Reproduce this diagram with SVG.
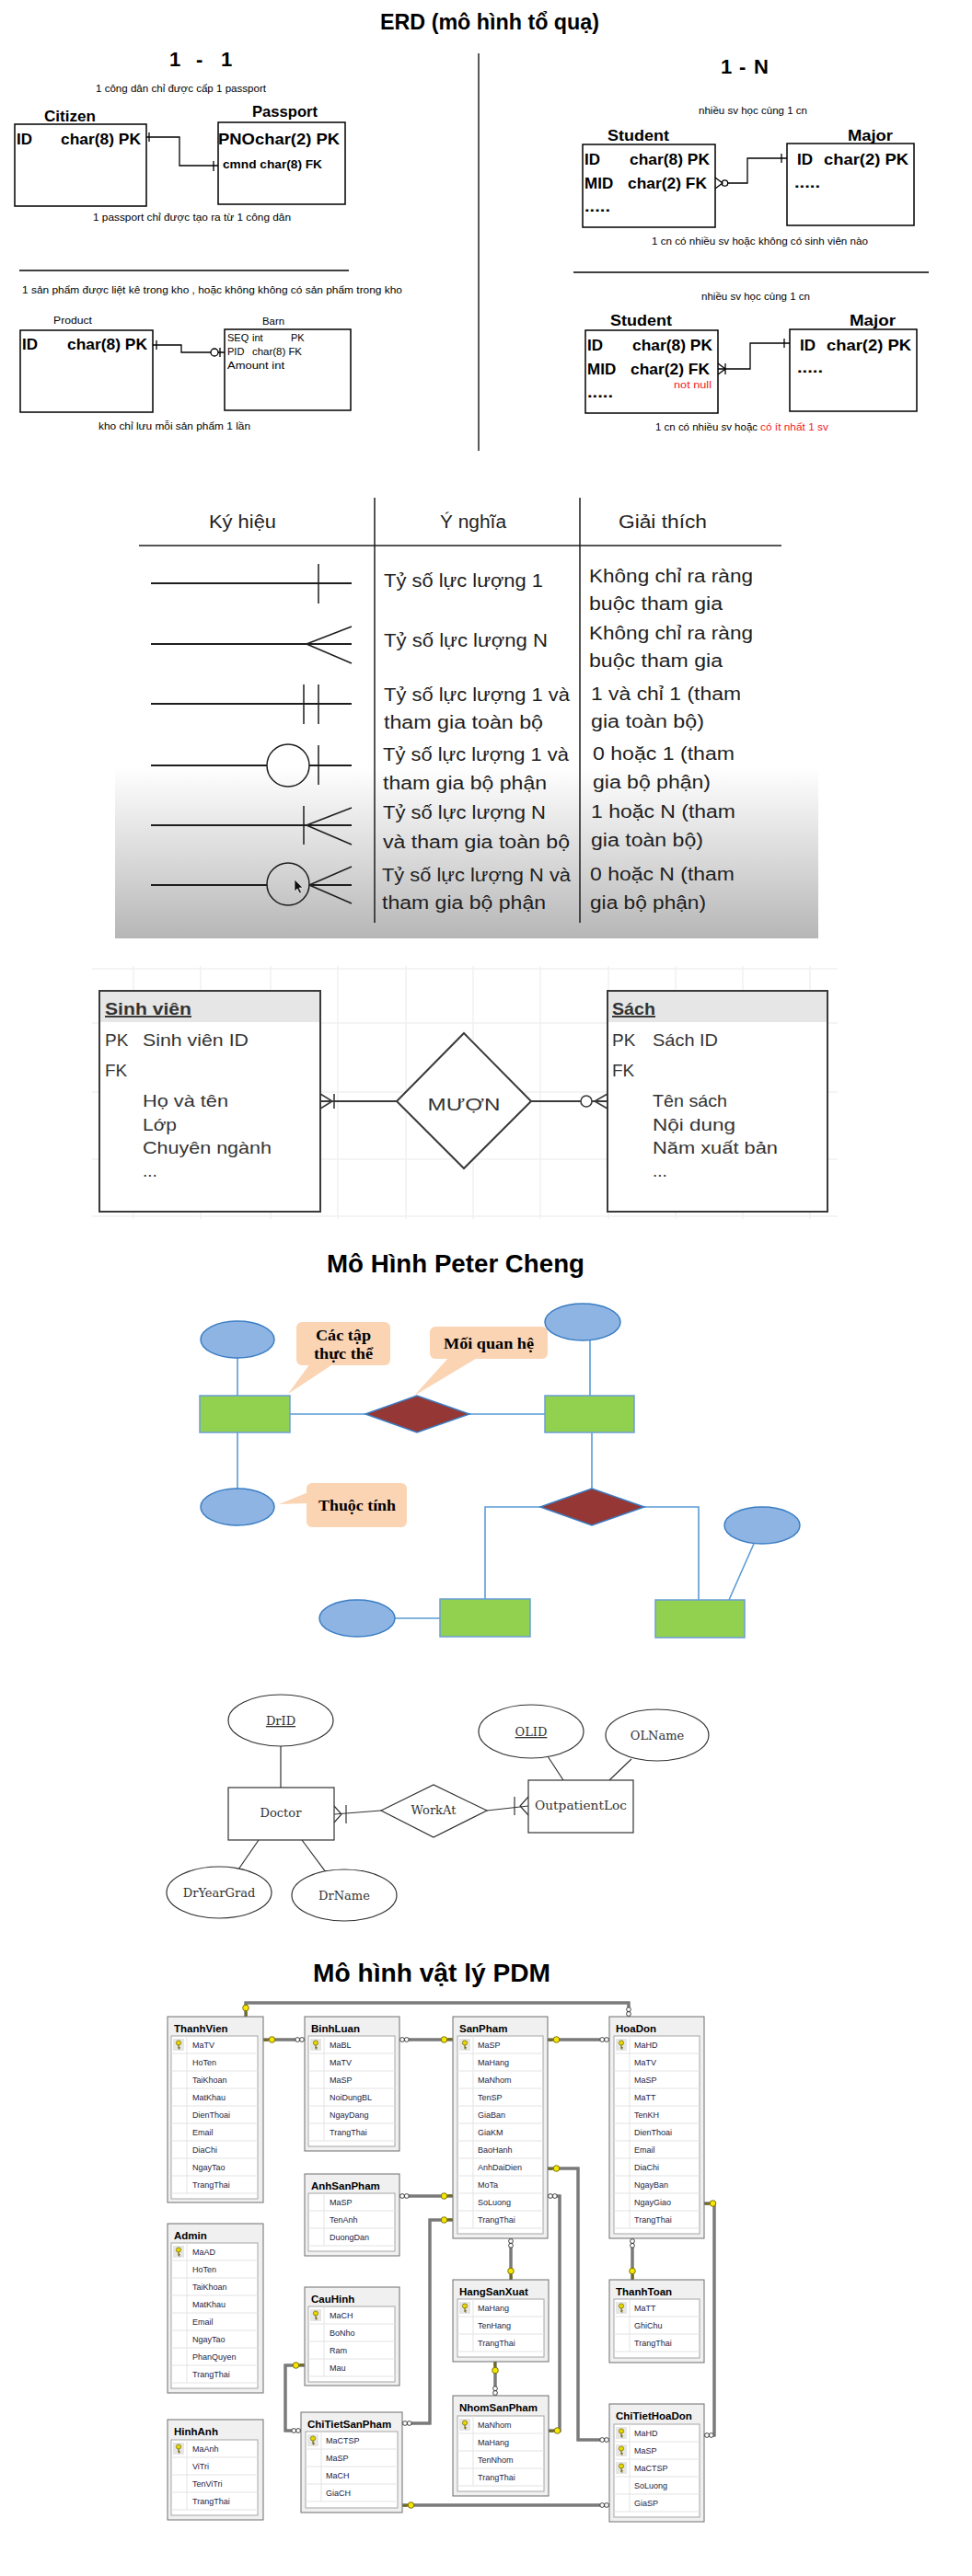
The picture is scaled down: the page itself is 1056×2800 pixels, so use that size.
<svg xmlns="http://www.w3.org/2000/svg" xmlns:xlink="http://www.w3.org/1999/xlink" width="1056" height="2800" viewBox="0 0 1056 2800">
<style>
text{font-family:"Liberation Sans",Arial,sans-serif;fill:#000}
.b24{font-weight:bold;font-size:24px}
.b20{font-weight:bold;font-size:22px}
.b17{font-weight:bold;font-size:17px}
.b13{font-weight:bold;font-size:13px}
.s11{font-size:11px}
.red{fill:#f01c24}
.ln{fill:none;stroke:#000;stroke-width:1.3}
.box{fill:#fff;stroke:#000;stroke-width:1.5}
.tb{font-size:20px;fill:#1e1e1e}
.sym{stroke:#1e1e1e;stroke-width:2;fill:none}
.symt{stroke:#1e1e1e;stroke-width:1.5;fill:none}
.sv{font-size:19px;fill:#333}
.svb{font-size:19px;font-weight:bold;fill:#333;text-decoration:underline}
.svbox{fill:#fff;stroke:#3a3a3a;stroke-width:2}
.grid{stroke:#f1f1f1;stroke-width:1.5}
.pc-e{fill:#8db4e2;stroke:#3b7dc4;stroke-width:1.5}
.pc-r{fill:#92d050;stroke:#6a9fd6;stroke-width:1.5}
.pc-d{fill:#953734;stroke:#3b7dc4;stroke-width:1.5}
.pc-l{fill:none;stroke:#5b9bd5;stroke-width:1.6}
.pc-c{fill:#fbd4b4}
.pc-t{font-family:"Liberation Serif","Times New Roman",serif;font-weight:bold;font-size:16px}
.dr{fill:#fff;stroke:#333;stroke-width:1.2}
.drl{fill:none;stroke:#333;stroke-width:1.2}
.drt{font-family:"DejaVu Serif",serif;font-size:13px;fill:#333}
.to{fill:#f0f0f0;stroke:#6e6e6e;stroke-width:1}
.ti{fill:#fff;stroke:#a6a6a6;stroke-width:1}
.rs{fill:none;stroke:#e3e3e3;stroke-width:1}
.tt{font-weight:bold;font-size:11.5px}
.tf{font-size:9px;fill:#1c1c44}
.cx{fill:none;stroke:#7a7a7a;stroke-width:3}
.ci{fill:none;stroke:#f2f2f2;stroke-width:1}
</style>
<defs>
<linearGradient id="gbg" x1="0" y1="0" x2="0" y2="1">
<stop offset="0" stop-color="#ffffff"/>
<stop offset="0.62" stop-color="#ffffff"/>
<stop offset="0.85" stop-color="#d4d4d4"/>
<stop offset="1" stop-color="#b6b6b6"/>
</linearGradient>
<g id="pk"><rect x="0" y="0" width="12" height="13" fill="#e6e6e6"/><circle cx="6" cy="4.5" r="2.6" fill="#e8d800" stroke="#6e6400" stroke-width="0.7"/><path d="M6 7V11M6 9.5H7.6M6 11H7.6" stroke="#6e6400" stroke-width="1.1" fill="none"/></g>
<g id="key"><path d="M0 0H6M2 0V2M4 0V2" stroke="#6e6400" stroke-width="1.2" fill="none"/><circle cx="9.5" cy="0" r="3.3" fill="#f5e600" stroke="#6e6400" stroke-width="0.9"/></g>
<g id="many"><circle cx="3" cy="0" r="2.4" fill="#fff" stroke="#333" stroke-width="0.9"/><circle cx="7.8" cy="0" r="2.4" fill="#fff" stroke="#333" stroke-width="0.9"/></g>
</defs>
<rect width="1056" height="2800" fill="#fff"/>

<!-- ===== ERD section ===== -->
<g id="erd-title">
<text class="b24" x="413" y="32" textLength="238" lengthAdjust="spacingAndGlyphs">ERD (mô hình tổ quạ)</text>
<text class="b20" x="184" y="72">1</text><text class="b20" x="213" y="72">-</text><text class="b20" x="240" y="72">1</text>
<text class="b20" x="783" y="80">1</text><text class="b20" x="803" y="80">-</text><text class="b20" x="819" y="80">N</text>
</g>
<g id="erd-dividers">
<line class="ln" x1="520" y1="58" x2="520" y2="490"/>
<line class="ln" x1="21" y1="294" x2="379" y2="294"/>
<line class="ln" x1="623" y1="296" x2="1009" y2="296"/>
</g>
<g id="erd-notes">
<text class="s11" x="104" y="100" textLength="185" lengthAdjust="spacingAndGlyphs">1 công dân chỉ được cấp 1 passport</text>
<text class="s11" x="101" y="240" textLength="215" lengthAdjust="spacingAndGlyphs">1 passport chỉ được tạo ra từ 1 công dân</text>
<text class="s11" x="24" y="319" textLength="413" lengthAdjust="spacingAndGlyphs">1 sản phẩm được liệt kê trong kho , hoặc không không có sản phẩm trong kho</text>
<text class="s11" x="107" y="467" textLength="165" lengthAdjust="spacingAndGlyphs">kho chỉ lưu mỗi sản phẩm 1 lần</text>
<text class="s11" x="759" y="124" textLength="118" lengthAdjust="spacingAndGlyphs">nhiều sv học cùng 1 cn</text>
<text class="s11" x="708" y="266" textLength="235" lengthAdjust="spacingAndGlyphs">1 cn có nhiều sv hoặc không có sinh viên nào</text>
<text class="s11" x="762" y="326" textLength="118" lengthAdjust="spacingAndGlyphs">nhiều sv học cùng 1 cn</text>
<text class="s11" x="712" y="468" textLength="111" lengthAdjust="spacingAndGlyphs">1 cn có nhiều sv hoặc</text>
<text class="s11 red" x="826" y="468" textLength="74" lengthAdjust="spacingAndGlyphs">có ít nhất 1 sv</text>
</g>
<g id="citizen">
<text class="b17" x="48" y="132" textLength="56" lengthAdjust="spacingAndGlyphs">Citizen</text>
<rect class="box" x="16" y="135" width="143" height="89"/>
<text class="b17" x="18" y="157">ID</text>
<text class="b17" x="66" y="157" textLength="87" lengthAdjust="spacingAndGlyphs">char(8) PK</text>
</g>
<g id="passport">
<text class="b17" x="274" y="127" textLength="71" lengthAdjust="spacingAndGlyphs">Passport</text>
<rect class="box" x="237" y="133" width="138" height="89"/>
<text class="b17" x="237" y="157" textLength="132" lengthAdjust="spacingAndGlyphs">PNOchar(2)  PK</text>
<text class="b13" x="242" y="183" textLength="108" lengthAdjust="spacingAndGlyphs">cmnd char(8) FK</text>
</g>
<g id="product">
<text class="s11" x="58" y="352" textLength="42" lengthAdjust="spacingAndGlyphs">Product</text>
<rect class="box" x="22" y="359" width="144" height="89"/>
<text class="b17" x="24" y="380">ID</text>
<text class="b17" x="73" y="380" textLength="87" lengthAdjust="spacingAndGlyphs">char(8) PK</text>
</g>
<g id="barn">
<text class="s11" x="285" y="353" textLength="24" lengthAdjust="spacingAndGlyphs">Barn</text>
<rect class="box" x="244" y="358" width="137" height="88"/>
<text class="s11" x="247" y="371">SEQ</text><text class="s11" x="274" y="371">int</text><text class="s11" x="316" y="371">PK</text>
<text class="s11" x="247" y="386">PID</text><text class="s11" x="274" y="386" textLength="54" lengthAdjust="spacingAndGlyphs">char(8) FK</text>
<text class="s11" x="247" y="401" textLength="62" lengthAdjust="spacingAndGlyphs">Amount int</text>
</g>
<g id="student1">
<text class="b17" x="660" y="153" textLength="67" lengthAdjust="spacingAndGlyphs">Student</text>
<rect class="box" x="633" y="157" width="144" height="90"/>
<text class="b17" x="635" y="179">ID</text>
<text class="b17" x="684" y="179" textLength="87" lengthAdjust="spacingAndGlyphs">char(8) PK</text>
<text class="b17" x="635" y="205">MID</text>
<text class="b17" x="682" y="205" textLength="86" lengthAdjust="spacingAndGlyphs">char(2) FK</text>
<text class="b17" x="635" y="230" textLength="28" lengthAdjust="spacingAndGlyphs">.....</text>
</g>
<g id="major1">
<text class="b17" x="921" y="153" textLength="49" lengthAdjust="spacingAndGlyphs">Major</text>
<rect class="box" x="855" y="156" width="138" height="89"/>
<text class="b17" x="866" y="179">ID</text>
<text class="b17" x="895" y="179" textLength="92" lengthAdjust="spacingAndGlyphs">char(2)  PK</text>
<text class="b17" x="863" y="204" textLength="28" lengthAdjust="spacingAndGlyphs">.....</text>
</g>
<g id="student2">
<text class="b17" x="663" y="354" textLength="67" lengthAdjust="spacingAndGlyphs">Student</text>
<rect class="box" x="636" y="359" width="144" height="90"/>
<text class="b17" x="638" y="381">ID</text>
<text class="b17" x="687" y="381" textLength="87" lengthAdjust="spacingAndGlyphs">char(8) PK</text>
<text class="b17" x="638" y="407">MID</text>
<text class="b17" x="685" y="407" textLength="86" lengthAdjust="spacingAndGlyphs">char(2) FK</text>
<text class="s11 red" x="732" y="422" textLength="41" lengthAdjust="spacingAndGlyphs">not null</text>
<text class="b17" x="638" y="432" textLength="28" lengthAdjust="spacingAndGlyphs">.....</text>
</g>
<g id="major2">
<text class="b17" x="923" y="354" textLength="50" lengthAdjust="spacingAndGlyphs">Major</text>
<rect class="box" x="858" y="358" width="138" height="89"/>
<text class="b17" x="869" y="381">ID</text>
<text class="b17" x="898" y="381" textLength="92" lengthAdjust="spacingAndGlyphs">char(2)  PK</text>
<text class="b17" x="866" y="405" textLength="28" lengthAdjust="spacingAndGlyphs">.....</text>
</g>
<g id="erd-connectors">
<polyline class="ln" points="159,149 195,149 195,180 237,180"/>
<path class="ln" d="M162 144V154M232 175V186"/>
<polyline class="ln" points="166,375 197,375 197,383 229,383"/>
<circle class="ln" cx="233" cy="383" r="4" fill="#fff"/>
<path class="ln" d="M237 383H244M170 370V380M239 378V388"/>
<path class="ln" d="M777 193L785 199L777 205"/>
<circle class="ln" cx="787.5" cy="199" r="3.2"/>
<polyline class="ln" points="791,199 812,199 812,172 855,172"/>
<path class="ln" d="M849 167V177"/>
<path class="ln" d="M780 395L788 401L780 407M788 395V407"/>
<polyline class="ln" points="780,401 815,401 815,373 858,373"/>
<path class="ln" d="M852 368V378"/>
</g>

<!-- ===== Notation table ===== -->
<g id="notation-table">
<rect x="125" y="530" width="764" height="490" fill="url(#gbg)"/>
<path class="symt" d="M151 593H849M407 541V1003M630 541V1003"/>
<text class="tb" x="227" y="574" textLength="73" lengthAdjust="spacingAndGlyphs">Ký hiệu</text>
<text class="tb" x="478" y="574" textLength="72" lengthAdjust="spacingAndGlyphs">Ý nghĩa</text>
<text class="tb" x="672" y="574" textLength="96" lengthAdjust="spacingAndGlyphs">Giải thích</text>
<g id="sym-rows">
<path class="sym" d="M164 634H382M164 700H382M164 765H382M164 832H290M336 832H382M164 897H382M164 962H290M336 962H382"/>
<path class="symt" d="M346 613V656M333 700L382 681M333 700L382 721M330 744V787M346 744V787M346 810V853M330 876V918M333 897L382 878M333 897L382 918M336 962L382 942M336 962L382 982"/>
<circle class="symt" cx="313" cy="832" r="23"/>
<circle class="symt" cx="313" cy="961" r="23"/>
<polygon points="320,956 320,969 323,966 325.5,971 327.5,970 325,965 329,965" fill="#111" stroke="#fff" stroke-width="0.6"/>
</g>
<text class="tb" x="417" y="638" textLength="173" lengthAdjust="spacingAndGlyphs">Tỷ số lực lượng 1</text>
<text class="tb" x="417" y="703" textLength="178" lengthAdjust="spacingAndGlyphs">Tỷ số lực lượng N</text>
<text class="tb" x="417" y="762" textLength="202" lengthAdjust="spacingAndGlyphs">Tỷ số lực lượng 1 và</text>
<text class="tb" x="417" y="792" textLength="173" lengthAdjust="spacingAndGlyphs">tham gia toàn bộ</text>
<text class="tb" x="416" y="827" textLength="202" lengthAdjust="spacingAndGlyphs">Tỷ số lực lượng 1 và</text>
<text class="tb" x="416" y="858" textLength="178" lengthAdjust="spacingAndGlyphs">tham gia bộ phận</text>
<text class="tb" x="416" y="890" textLength="177" lengthAdjust="spacingAndGlyphs">Tỷ số lực lượng N</text>
<text class="tb" x="416" y="922" textLength="203" lengthAdjust="spacingAndGlyphs">và tham gia toàn bộ</text>
<text class="tb" x="415" y="958" textLength="205" lengthAdjust="spacingAndGlyphs">Tỷ số lực lượng N và</text>
<text class="tb" x="415" y="988" textLength="178" lengthAdjust="spacingAndGlyphs">tham gia bộ phận</text>
<text class="tb" x="640" y="633" textLength="178" lengthAdjust="spacingAndGlyphs">Không chỉ ra ràng</text>
<text class="tb" x="640" y="663" textLength="145" lengthAdjust="spacingAndGlyphs">buộc tham gia</text>
<text class="tb" x="640" y="695" textLength="178" lengthAdjust="spacingAndGlyphs">Không chỉ ra ràng</text>
<text class="tb" x="640" y="725" textLength="145" lengthAdjust="spacingAndGlyphs">buộc tham gia</text>
<text class="tb" x="642" y="761" textLength="163" lengthAdjust="spacingAndGlyphs">1 và chỉ 1 (tham</text>
<text class="tb" x="642" y="791" textLength="123" lengthAdjust="spacingAndGlyphs">gia toàn bộ)</text>
<text class="tb" x="644" y="826" textLength="154" lengthAdjust="spacingAndGlyphs">0 hoặc 1 (tham</text>
<text class="tb" x="644" y="857" textLength="128" lengthAdjust="spacingAndGlyphs">gia bộ phận)</text>
<text class="tb" x="642" y="889" textLength="157" lengthAdjust="spacingAndGlyphs">1 hoặc N (tham</text>
<text class="tb" x="642" y="920" textLength="122" lengthAdjust="spacingAndGlyphs">gia toàn bộ)</text>
<text class="tb" x="641" y="957" textLength="157" lengthAdjust="spacingAndGlyphs">0 hoặc N (tham</text>
<text class="tb" x="641" y="988" textLength="126" lengthAdjust="spacingAndGlyphs">gia bộ phận)</text>
</g>

<!-- ===== Sinh vien / Sach ===== -->
<g id="grid-bg">
<path class="grid" d="M145 1050V1325M218 1050V1325M294 1050V1325M367 1050V1325M441 1050V1325M514 1050V1325M587 1050V1325M661 1050V1325M734 1050V1325M807 1050V1325M880 1050V1325M100 1053H910M100 1112H910M100 1187H910M100 1260H910M100 1322H910"/>
</g>
<g id="sinhvien">
<rect class="svbox" x="108" y="1077" width="240" height="240"/>
<rect x="109" y="1078" width="238" height="33" fill="#e6e6e6"/>
<text class="svb" x="114" y="1103" textLength="94" lengthAdjust="spacingAndGlyphs">Sinh viên</text>
<text class="sv" x="114" y="1137">PK</text>
<text class="sv" x="155" y="1137" textLength="115" lengthAdjust="spacingAndGlyphs">Sinh viên ID</text>
<text class="sv" x="114" y="1170">FK</text>
<text class="sv" x="155" y="1203" textLength="93" lengthAdjust="spacingAndGlyphs">Họ và tên</text>
<text class="sv" x="155" y="1229" textLength="37" lengthAdjust="spacingAndGlyphs">Lớp</text>
<text class="sv" x="155" y="1254" textLength="140" lengthAdjust="spacingAndGlyphs">Chuyên ngành</text>
<text class="sv" x="155" y="1279" font-size="12">...</text>
</g>
<g id="sach">
<rect class="svbox" x="660" y="1077" width="239" height="240"/>
<rect x="661" y="1078" width="237" height="33" fill="#e6e6e6"/>
<text class="svb" x="665" y="1103" textLength="47" lengthAdjust="spacingAndGlyphs">Sách</text>
<text class="sv" x="665" y="1137">PK</text>
<text class="sv" x="709" y="1137" textLength="71" lengthAdjust="spacingAndGlyphs">Sách ID</text>
<text class="sv" x="665" y="1170">FK</text>
<text class="sv" x="709" y="1203" textLength="81" lengthAdjust="spacingAndGlyphs">Tên sách</text>
<text class="sv" x="709" y="1229" textLength="90" lengthAdjust="spacingAndGlyphs">Nội dung</text>
<text class="sv" x="709" y="1254" textLength="136" lengthAdjust="spacingAndGlyphs">Năm xuất bản</text>
<text class="sv" x="709" y="1279" font-size="12">...</text>
</g>
<g id="muon">
<polygon points="504,1123 577,1197 504,1270 431,1197" fill="#fff" stroke="#3a3a3a" stroke-width="2"/>
<text class="sv" x="504" y="1207" font-size="24" text-anchor="middle" textLength="79" lengthAdjust="spacingAndGlyphs">MƯỢN</text>
</g>
<g id="sv-connectors">
<path d="M348 1197H431M577 1197H631M643 1197H660" fill="none" stroke="#3a3a3a" stroke-width="2"/>
<path d="M348 1189L361 1197L348 1205M363 1189V1205M660 1189L646 1197L660 1205" fill="none" stroke="#3a3a3a" stroke-width="1.6"/>
<circle cx="637" cy="1197" r="6" fill="#fff" stroke="#3a3a3a" stroke-width="1.6"/>
</g>

<!-- ===== Peter Cheng ===== -->
<g id="pc-title">
<text x="355" y="1383" font-size="27" font-weight="bold" textLength="280" lengthAdjust="spacingAndGlyphs">Mô Hình Peter Cheng</text>
</g>
<g id="pc-connectors">
<path class="pc-l" d="M258 1476V1517M258 1557V1618M315 1537H397M510 1537H592M641 1457V1517M643 1557V1618M587 1638H527V1738M429 1759H478M700 1638H759V1739M819 1678L792 1739"/>
</g>
<g id="pc-callout-entity">
<polygon class="pc-c" points="337,1482 313,1515 363,1482"/>
<rect class="pc-c" x="322" y="1437" width="102" height="47" rx="6"/>
<text class="pc-t" x="373" y="1457" text-anchor="middle" textLength="60" lengthAdjust="spacingAndGlyphs">Các tập</text>
<text class="pc-t" x="373" y="1477" text-anchor="middle" textLength="64" lengthAdjust="spacingAndGlyphs">thực thể</text>
</g>
<g id="pc-callout-rel">
<polygon class="pc-c" points="488,1475 450,1517 520,1475"/>
<rect class="pc-c" x="467" y="1442" width="128" height="35" rx="6"/>
<text class="pc-t" x="531" y="1466" text-anchor="middle" textLength="98" lengthAdjust="spacingAndGlyphs">Mối quan hệ</text>
</g>
<g id="pc-callout-attr">
<polygon class="pc-c" points="335,1622 303,1635 335,1634"/>
<rect class="pc-c" x="333" y="1612" width="109" height="48" rx="6"/>
<text class="pc-t" x="388" y="1642" text-anchor="middle" textLength="84" lengthAdjust="spacingAndGlyphs">Thuộc tính</text>
</g>
<g id="pc-e1"><ellipse class="pc-e" cx="258" cy="1456" rx="40" ry="20"/></g>
<g id="pc-e5"><ellipse class="pc-e" cx="258" cy="1638" rx="40" ry="20"/></g>
<g id="pc-e2"><ellipse class="pc-e" cx="633" cy="1437" rx="41" ry="20"/></g>
<g id="pc-e3"><ellipse class="pc-e" cx="388" cy="1759" rx="41" ry="20"/></g>
<g id="pc-e4"><ellipse class="pc-e" cx="828" cy="1658" rx="41" ry="20"/></g>
<g id="pc-r1"><rect class="pc-r" x="217" y="1517" width="98" height="40"/></g>
<g id="pc-r2"><rect class="pc-r" x="592" y="1517" width="97" height="40"/></g>
<g id="pc-r3"><rect class="pc-r" x="478" y="1738" width="98" height="41"/></g>
<g id="pc-r4"><rect class="pc-r" x="712" y="1739" width="97" height="41"/></g>
<g id="pc-d1"><polygon class="pc-d" points="397,1537 453,1517 510,1537 453,1557"/></g>
<g id="pc-d2"><polygon class="pc-d" points="587,1638 643,1618 700,1638 643,1658"/></g>

<!-- ===== Doctor ER ===== -->
<g id="dr-connectors">
<path class="drl" d="M305 1898V1943M281 2000L259 2032M328 2000L354 2035M363 1972L414 1968M529 1968L574 1963M595 1909L612 1935M686 1912L662 1935"/>
<path class="drl" d="M363 1963L371 1972L363 1981M376 1962V1982M559 1953V1973M574 1953L565 1963L574 1973"/>
</g>
<g id="dr-drid"><ellipse class="dr" cx="305" cy="1870" rx="57" ry="28"/><text class="drt" x="305" y="1875" text-anchor="middle" text-decoration="underline">DrID</text></g>
<g id="dr-doctor"><rect class="dr" x="248" y="1943" width="115" height="57"/><text class="drt" x="305" y="1975" text-anchor="middle">Doctor</text></g>
<g id="dr-year"><ellipse class="dr" cx="238" cy="2057" rx="57" ry="28"/><text class="drt" x="238" y="2062" text-anchor="middle">DrYearGrad</text></g>
<g id="dr-name"><ellipse class="dr" cx="374" cy="2060" rx="57" ry="28"/><text class="drt" x="374" y="2065" text-anchor="middle">DrName</text></g>
<g id="dr-workat"><polygon class="dr" points="414,1968 471,1940 529,1968 471,1997"/><text class="drt" x="471" y="1972" text-anchor="middle">WorkAt</text></g>
<g id="dr-outpatient"><rect class="dr" x="574" y="1935" width="114" height="57"/><text class="drt" x="631" y="1967" text-anchor="middle" textLength="100" lengthAdjust="spacingAndGlyphs">OutpatientLoc</text></g>
<g id="dr-olid"><ellipse class="dr" cx="577" cy="1882" rx="57" ry="29"/><text class="drt" x="577" y="1887" text-anchor="middle" text-decoration="underline">OLID</text></g>
<g id="dr-olname"><ellipse class="dr" cx="714" cy="1886" rx="56" ry="28"/><text class="drt" x="714" y="1891" text-anchor="middle">OLName</text></g>

<!-- ===== PDM ===== -->
<g id="pdm-title">
<text x="340" y="2154" font-size="28" font-weight="bold" textLength="258" lengthAdjust="spacingAndGlyphs">Mô hình vật lý PDM</text>
</g>
<g id="pdm-connectors">
<path id="c1" class="cx" d="M267 2192V2177H683V2192"/>
<path id="c2" class="cx" d="M286 2217H331"/>
<path id="c3" class="cx" d="M434 2217H492"/>
<path id="c4" class="cx" d="M595 2217H662"/>
<path id="c5" class="cx" d="M434 2387H492"/>
<path id="c6" class="cx" d="M437 2634H467V2413H492"/>
<path id="c7" class="cx" d="M595 2357H628V2652H662"/>
<path id="c8" class="cx" d="M595 2387H608V2642H596"/>
<path id="c9" class="cx" d="M555 2433V2478"/>
<path id="c10" class="cx" d="M538 2567V2604"/>
<path id="c11" class="cx" d="M687 2433V2478"/>
<path id="c12" class="cx" d="M765 2395H776V2647H765"/>
<path id="c13" class="cx" d="M331 2571H310V2642H327"/>
<path id="c14" class="cx" d="M437 2723H662"/>
<g class="ci">
<use xlink:href="#c1" class="ci"/><use xlink:href="#c2" class="ci"/><use xlink:href="#c3" class="ci"/><use xlink:href="#c4" class="ci"/><use xlink:href="#c5" class="ci"/><use xlink:href="#c6" class="ci"/><use xlink:href="#c7" class="ci"/><use xlink:href="#c8" class="ci"/><use xlink:href="#c9" class="ci"/><use xlink:href="#c10" class="ci"/><use xlink:href="#c11" class="ci"/><use xlink:href="#c12" class="ci"/><use xlink:href="#c13" class="ci"/><use xlink:href="#c14" class="ci"/>
</g>
<use xlink:href="#key" transform="translate(267,2192) rotate(-90)"/>
<use xlink:href="#many" transform="translate(683,2192) rotate(-90)"/>
<use xlink:href="#key" transform="translate(286,2217)"/>
<use xlink:href="#many" transform="translate(331,2217) rotate(180)"/>
<use xlink:href="#many" transform="translate(434,2217)"/>
<use xlink:href="#key" transform="translate(492,2217) rotate(180)"/>
<use xlink:href="#key" transform="translate(595,2217)"/>
<use xlink:href="#many" transform="translate(662,2217) rotate(180)"/>
<use xlink:href="#many" transform="translate(434,2387)"/>
<use xlink:href="#key" transform="translate(492,2387) rotate(180)"/>
<use xlink:href="#many" transform="translate(437,2634)"/>
<use xlink:href="#key" transform="translate(492,2413) rotate(180)"/>
<use xlink:href="#key" transform="translate(595,2357)"/>
<use xlink:href="#many" transform="translate(662,2652) rotate(180)"/>
<use xlink:href="#many" transform="translate(595,2387)"/>
<use xlink:href="#key" transform="translate(596,2642)"/>
<use xlink:href="#many" transform="translate(555,2433) rotate(90)"/>
<use xlink:href="#key" transform="translate(555,2478) rotate(-90)"/>
<use xlink:href="#key" transform="translate(538,2567) rotate(90)"/>
<use xlink:href="#many" transform="translate(538,2604) rotate(-90)"/>
<use xlink:href="#many" transform="translate(687,2433) rotate(90)"/>
<use xlink:href="#key" transform="translate(687,2478) rotate(-90)"/>
<use xlink:href="#key" transform="translate(765,2395)"/>
<use xlink:href="#many" transform="translate(765,2647)"/>
<use xlink:href="#key" transform="translate(331,2571) rotate(180)"/>
<use xlink:href="#many" transform="translate(327,2642) rotate(180)"/>
<use xlink:href="#key" transform="translate(437,2723)"/>
<use xlink:href="#many" transform="translate(662,2723) rotate(180)"/>
</g>

<g id="tbl-ThanhVien">
<rect class="to" x="182" y="2192" width="104" height="202"/>
<text class="tt" x="189" y="2209">ThanhVien</text>
<rect class="ti" x="186" y="2213" width="94" height="177"/>
<path class="rs" d="M186 2232H280M186 2251H280M186 2270H280M186 2289H280M186 2308H280M186 2327H280M186 2346H280M186 2365H280M186 2384H280M203 2213V2384"/>
<use xlink:href="#pk" x="188" y="2216"/>
<text class="tf" x="209" y="2226">MaTV</text><text class="tf" x="209" y="2245">HoTen</text><text class="tf" x="209" y="2264">TaiKhoan</text><text class="tf" x="209" y="2283">MatKhau</text><text class="tf" x="209" y="2302">DienThoai</text><text class="tf" x="209" y="2321">Email</text><text class="tf" x="209" y="2340">DiaChi</text><text class="tf" x="209" y="2359">NgayTao</text><text class="tf" x="209" y="2378">TrangThai</text>
</g>
<g id="tbl-Admin">
<rect class="to" x="182" y="2417" width="104" height="184"/>
<text class="tt" x="189" y="2434">Admin</text>
<rect class="ti" x="186" y="2438" width="94" height="158"/>
<path class="rs" d="M186 2457H280M186 2476H280M186 2495H280M186 2514H280M186 2533H280M186 2552H280M186 2571H280M186 2590H280M203 2438V2590"/>
<use xlink:href="#pk" x="188" y="2441"/>
<text class="tf" x="209" y="2451">MaAD</text><text class="tf" x="209" y="2470">HoTen</text><text class="tf" x="209" y="2489">TaiKhoan</text><text class="tf" x="209" y="2508">MatKhau</text><text class="tf" x="209" y="2527">Email</text><text class="tf" x="209" y="2546">NgayTao</text><text class="tf" x="209" y="2565">PhanQuyen</text><text class="tf" x="209" y="2584">TrangThai</text>
</g>
<g id="tbl-HinhAnh">
<rect class="to" x="182" y="2630" width="104" height="109"/>
<text class="tt" x="189" y="2647">HinhAnh</text>
<rect class="ti" x="186" y="2652" width="94" height="82"/>
<path class="rs" d="M186 2671H280M186 2690H280M186 2709H280M186 2728H280M203 2652V2728"/>
<use xlink:href="#pk" x="188" y="2655"/>
<text class="tf" x="209" y="2665">MaAnh</text><text class="tf" x="209" y="2684">ViTri</text><text class="tf" x="209" y="2703">TenViTri</text><text class="tf" x="209" y="2722">TrangThai</text>
</g>
<g id="tbl-BinhLuan">
<rect class="to" x="331" y="2192" width="103" height="146"/>
<text class="tt" x="338" y="2209">BinhLuan</text>
<rect class="ti" x="335" y="2213" width="94" height="120"/>
<path class="rs" d="M335 2232H429M335 2251H429M335 2270H429M335 2289H429M335 2308H429M335 2327H429M352 2213V2327"/>
<use xlink:href="#pk" x="337" y="2216"/>
<text class="tf" x="358" y="2226">MaBL</text><text class="tf" x="358" y="2245">MaTV</text><text class="tf" x="358" y="2264">MaSP</text><text class="tf" x="358" y="2283">NoiDungBL</text><text class="tf" x="358" y="2302">NgayDang</text><text class="tf" x="358" y="2321">TrangThai</text>
</g>
<g id="tbl-AnhSanPham">
<rect class="to" x="331" y="2363" width="103" height="89"/>
<text class="tt" x="338" y="2380">AnhSanPham</text>
<rect class="ti" x="335" y="2384" width="94" height="63"/>
<path class="rs" d="M335 2403H429M335 2422H429M335 2441H429M352 2384V2441"/>
<text class="tf" x="358" y="2397">MaSP</text><text class="tf" x="358" y="2416">TenAnh</text><text class="tf" x="358" y="2435">DuongDan</text>
</g>
<g id="tbl-CauHinh">
<rect class="to" x="331" y="2486" width="103" height="107"/>
<text class="tt" x="338" y="2503">CauHinh</text>
<rect class="ti" x="335" y="2507" width="94" height="82"/>
<path class="rs" d="M335 2526H429M335 2545H429M335 2564H429M335 2583H429M352 2507V2583"/>
<use xlink:href="#pk" x="337" y="2510"/>
<text class="tf" x="358" y="2520">MaCH</text><text class="tf" x="358" y="2539">BoNho</text><text class="tf" x="358" y="2558">Ram</text><text class="tf" x="358" y="2577">Mau</text>
</g>
<g id="tbl-ChiTietSanPham">
<rect class="to" x="327" y="2622" width="110" height="109"/>
<text class="tt" x="334" y="2639">ChiTietSanPham</text>
<rect class="ti" x="332" y="2643" width="100" height="83"/>
<path class="rs" d="M332 2662H432M332 2681H432M332 2700H432M332 2719H432M349 2643V2719"/>
<use xlink:href="#pk" x="334" y="2646"/>
<text class="tf" x="354" y="2656">MaCTSP</text><text class="tf" x="354" y="2675">MaSP</text><text class="tf" x="354" y="2694">MaCH</text><text class="tf" x="354" y="2713">GiaCH</text>
</g>
<g id="tbl-SanPham">
<rect class="to" x="492" y="2192" width="103" height="241"/>
<text class="tt" x="499" y="2209">SanPham</text>
<rect class="ti" x="497" y="2213" width="93" height="215"/>
<path class="rs" d="M497 2232H590M497 2251H590M497 2270H590M497 2289H590M497 2308H590M497 2327H590M497 2346H590M497 2365H590M497 2384H590M497 2403H590M497 2422H590M514 2213V2422"/>
<use xlink:href="#pk" x="499" y="2216"/>
<text class="tf" x="519" y="2226">MaSP</text><text class="tf" x="519" y="2245">MaHang</text><text class="tf" x="519" y="2264">MaNhom</text><text class="tf" x="519" y="2283">TenSP</text><text class="tf" x="519" y="2302">GiaBan</text><text class="tf" x="519" y="2321">GiaKM</text><text class="tf" x="519" y="2340">BaoHanh</text><text class="tf" x="519" y="2359">AnhDaiDien</text><text class="tf" x="519" y="2378">MoTa</text><text class="tf" x="519" y="2397">SoLuong</text><text class="tf" x="519" y="2416">TrangThai</text>
</g>
<g id="tbl-HangSanXuat">
<rect class="to" x="492" y="2478" width="104" height="89"/>
<text class="tt" x="499" y="2495">HangSanXuat</text>
<rect class="ti" x="497" y="2499" width="94" height="63"/>
<path class="rs" d="M497 2518H591M497 2537H591M497 2556H591M514 2499V2556"/>
<use xlink:href="#pk" x="499" y="2502"/>
<text class="tf" x="519" y="2512">MaHang</text><text class="tf" x="519" y="2531">TenHang</text><text class="tf" x="519" y="2550">TrangThai</text>
</g>
<g id="tbl-NhomSanPham">
<rect class="to" x="492" y="2604" width="104" height="109"/>
<text class="tt" x="499" y="2621">NhomSanPham</text>
<rect class="ti" x="497" y="2626" width="94" height="82"/>
<path class="rs" d="M497 2645H591M497 2664H591M497 2683H591M497 2702H591M514 2626V2702"/>
<use xlink:href="#pk" x="499" y="2629"/>
<text class="tf" x="519" y="2639">MaNhom</text><text class="tf" x="519" y="2658">MaHang</text><text class="tf" x="519" y="2677">TenNhom</text><text class="tf" x="519" y="2696">TrangThai</text>
</g>
<g id="tbl-HoaDon">
<rect class="to" x="662" y="2192" width="103" height="241"/>
<text class="tt" x="669" y="2209">HoaDon</text>
<rect class="ti" x="667" y="2213" width="93" height="215"/>
<path class="rs" d="M667 2232H760M667 2251H760M667 2270H760M667 2289H760M667 2308H760M667 2327H760M667 2346H760M667 2365H760M667 2384H760M667 2403H760M667 2422H760M684 2213V2422"/>
<use xlink:href="#pk" x="669" y="2216"/>
<text class="tf" x="689" y="2226">MaHD</text><text class="tf" x="689" y="2245">MaTV</text><text class="tf" x="689" y="2264">MaSP</text><text class="tf" x="689" y="2283">MaTT</text><text class="tf" x="689" y="2302">TenKH</text><text class="tf" x="689" y="2321">DienThoai</text><text class="tf" x="689" y="2340">Email</text><text class="tf" x="689" y="2359">DiaChi</text><text class="tf" x="689" y="2378">NgayBan</text><text class="tf" x="689" y="2397">NgayGiao</text><text class="tf" x="689" y="2416">TrangThai</text>
</g>
<g id="tbl-ThanhToan">
<rect class="to" x="662" y="2478" width="103" height="90"/>
<text class="tt" x="669" y="2495">ThanhToan</text>
<rect class="ti" x="667" y="2499" width="93" height="64"/>
<path class="rs" d="M667 2518H760M667 2537H760M667 2556H760M684 2499V2556"/>
<use xlink:href="#pk" x="669" y="2502"/>
<text class="tf" x="689" y="2512">MaTT</text><text class="tf" x="689" y="2531">GhiChu</text><text class="tf" x="689" y="2550">TrangThai</text>
</g>
<g id="tbl-ChiTietHoaDon">
<rect class="to" x="662" y="2613" width="103" height="128"/>
<text class="tt" x="669" y="2630">ChiTietHoaDon</text>
<rect class="ti" x="667" y="2635" width="93" height="101"/>
<path class="rs" d="M667 2654H760M667 2673H760M667 2692H760M667 2711H760M667 2730H760M684 2635V2730"/>
<use xlink:href="#pk" x="669" y="2638"/><use xlink:href="#pk" x="669" y="2657"/><use xlink:href="#pk" x="669" y="2676"/>
<text class="tf" x="689" y="2648">MaHD</text><text class="tf" x="689" y="2667">MaSP</text><text class="tf" x="689" y="2686">MaCTSP</text><text class="tf" x="689" y="2705">SoLuong</text><text class="tf" x="689" y="2724">GiaSP</text>
</g>
</svg>
